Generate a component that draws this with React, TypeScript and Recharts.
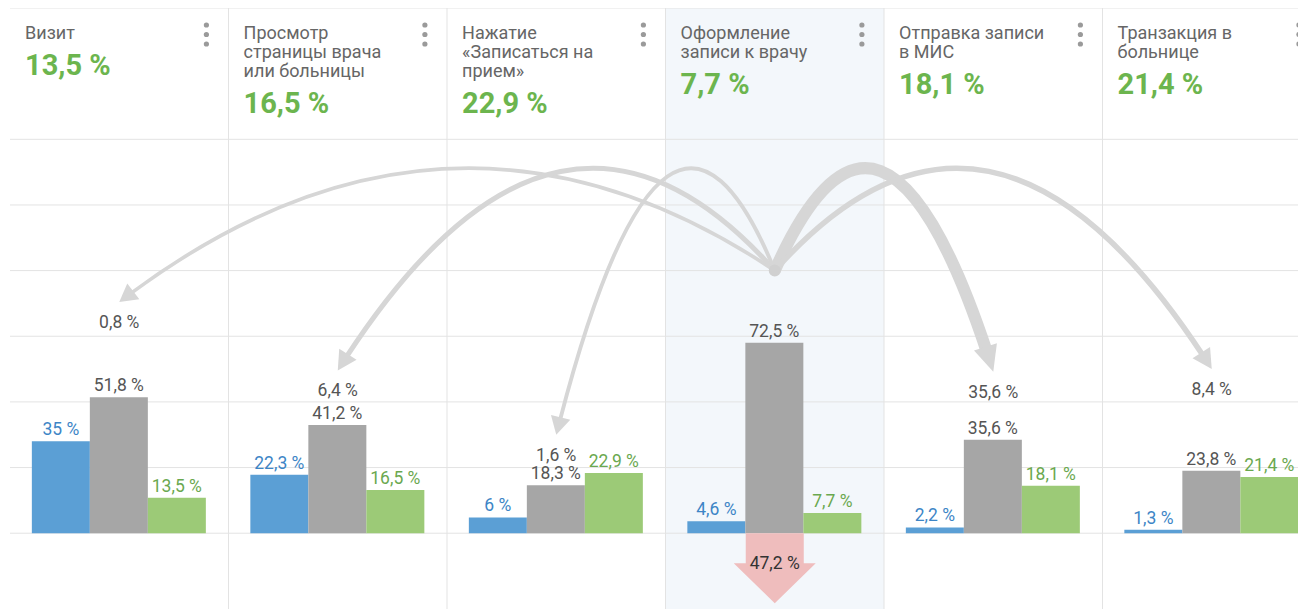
import React from 'react';
import {
  Bar,
  CartesianGrid,
  ComposedChart,
  LabelList,
  ReferenceDot,
  Scatter,
  XAxis,
  YAxis,
} from 'recharts';

// funnel steps
const categories = [
  'Визит',
  'Просмотр страницы врача или больницы',
  'Нажатие «Записаться на прием»',
  'Оформление записи к врачу',
  'Отправка записи в МИС',
  'Транзакция в больнице',
];
const titleLines = [
  ['Визит'],
  ['Просмотр', 'страницы врача', 'или больницы'],
  ['Нажатие', '«Записаться на', 'прием»'],
  ['Оформление', 'записи к врачу'],
  ['Отправка записи', 'в МИС'],
  ['Транзакция в', 'больнице'],
];
const stepRates = [13.5, 16.5, 22.9, 7.7, 18.1, 21.4];

const blueValues = [35, 22.3, 6, 4.6, 2.2, 1.3];
const grayValues = [51.8, 41.2, 18.3, 72.5, 35.6, 23.8];
const greenValues = [13.5, 16.5, 22.9, 7.7, 18.1, 21.4];

// flows out of the selected step (index 3)
const flowSource = 3;
const flowValues = [0.8, 6.4, 1.6, null, 35.6, 8.4];
const flowTargets = [88, 62, 37.5, null, 61.5, 62.5];
const sourceLevel = 100;
const arcTop = 139;
const exitValue = 47.2;

const gridLevels = [0, 25, 50, 75, 100, 125, 150, 200];
const colEdges = [-0.5, 0.5, 1.5, 2.5, 3.5, 4.5, 5.5];
const stripeFill = ['#ffffff', '#ffffff', '#ffffff', '#f3f7fb', '#ffffff', '#ffffff'];

const COL_W = 218.3;
const BLUE = '#5b9fd5';
const GRAY = '#a6a6a6';
const GREEN = '#9cca77';
const ARROW = '#d6d6d6';

const fmt = (v: number) => `${String(v).replace('.', ',')} %`;

const data = categories.map((name, i) => ({
  name,
  blue: blueValues[i],
  gray: grayValues[i],
  green: greenValues[i],
}));

const flows = flowValues
  .map((v, i) =>
    v == null
      ? null
      : {
          i,
          v,
          points: [
            { x: flowSource, y: sourceLevel, role: 'source' },
            { x: i, y: flowTargets[i] as number, role: 'target', value: v },
            { x: i, y: arcTop, role: 'apex' },
          ],
        },
  )
  .filter(Boolean) as { i: number; v: number; points: any[] }[];

function HeaderTick(props: any) {
  const { x, y, payload } = props;
  const i = categories.indexOf(payload.value);
  const left = x - COL_W / 2 + 15;
  const dotsX = x + COL_W / 2 - 22;
  const lines = titleLines[i];
  return (
    <g>
      {lines.map((l, k) => (
        <text key={k} x={left} y={y + 31 + k * 19} fill="#666" fontSize={18}>
          {l}
        </text>
      ))}
      <text
        x={left}
        y={y + 31 + (lines.length - 1) * 19 + 36}
        fill="#6cb54e"
        fontSize={29}
        fontWeight={700}
      >
        {fmt(stepRates[i])}
      </text>
      {[0, 1, 2].map((k) => (
        <circle key={k} cx={dotsX} cy={y + 17 + k * 9.5} r={2.6} fill="#9a9a9a" />
      ))}
    </g>
  );
}

const barLabel = (color: string) => (p: any) => {
  const x = p.x ?? p.viewBox?.x;
  const y = p.y ?? p.viewBox?.y;
  const w = p.width ?? p.viewBox?.width;
  return (
    <text x={x + w / 2} y={y - 6} textAnchor="middle" fill={color} fontSize={17.5}>
      {fmt(p.value)}
    </text>
  );
};

// parabola-like arc from source to target, apex at arcTop
const renderFlow = (value: number) => (props: any) => {
  const [s, t, a] = props.points;
  const yp = a.y;
  const dS = Math.sqrt(Math.max(s.y - yp, 1));
  const dT = Math.sqrt(Math.max(t.y - yp, 1));
  const xp = (s.x * dT + t.x * dS) / (dS + dT);
  const k = (s.y - yp) / Math.pow(s.x - xp, 2);
  const cx = (s.x + t.x) / 2;
  const cy = s.y + 2 * k * (s.x - xp) * (cx - s.x);

  const w = 3.5 + value * 0.24;
  const headL = 14 + w;
  const headW = 18 + w * 0.5;
  const dx = t.x - cx;
  const dy = t.y - cy;
  const len = Math.hypot(dx, dy);
  const ux = dx / len;
  const uy = dy / len;
  const t0 = 1 - (headL * 0.85) / (2 * len);
  const q1x = s.x + t0 * (cx - s.x);
  const q1y = s.y + t0 * (cy - s.y);
  const bx = (1 - t0) * (1 - t0) * s.x + 2 * t0 * (1 - t0) * cx + t0 * t0 * t.x;
  const by = (1 - t0) * (1 - t0) * s.y + 2 * t0 * (1 - t0) * cy + t0 * t0 * t.y;
  const baseX = t.x - ux * headL;
  const baseY = t.y - uy * headL;
  const px = -uy * (headW / 2);
  const py = ux * (headW / 2);
  return (
    <g>
      <path
        d={`M${s.x},${s.y} Q${q1x},${q1y} ${bx},${by}`}
        fill="none"
        stroke={ARROW}
        strokeWidth={w}
      />
      <path
        d={`M${t.x},${t.y} L${baseX + px},${baseY + py} L${baseX - px},${baseY - py} Z`}
        fill={ARROW}
      />
    </g>
  );
};

const flowPoint = (p: any) => {
  if (p.payload?.role !== 'target') return <g />;
  return (
    <text x={p.cx} y={p.cy + 26} textAnchor="middle" fill="#555" fontSize={17.5}>
      {fmt(p.payload.value)}
    </text>
  );
};

const ExitArrow = (p: any) => {
  const { cx, cy } = p;
  return (
    <g>
      <path
        d={`M${cx - 29},${cy} L${cx + 29},${cy} L${cx + 29},${cy + 30} L${cx + 41},${cy + 30} L${cx},${cy + 70} L${cx - 41},${cy + 30} L${cx - 29},${cy + 30} Z`}
        fill="#efbdbd"
      />
      <text x={cx} y={cy + 36} textAnchor="middle" fill="#333" fontSize={17.5}>
        {fmt(exitValue)}
      </text>
    </g>
  );
};

export default function App() {
  return (
    <div
      style={{
        width: 1298,
        height: 601,
        overflow: 'hidden',
        fontFamily: 'Roboto, sans-serif',
        background: '#fff',
      }}
    >
      <ComposedChart
        width={1313}
        height={604}
        data={data}
        margin={{ top: 0, right: 0, bottom: 0, left: 2 }}
        barCategoryGap="10%"
        barGap={0}
      >
        <CartesianGrid
          xAxisId="num"
          stroke="#e3e3e3"
          verticalValues={colEdges}
          horizontalValues={gridLevels}
          verticalFill={stripeFill}
        />
        <XAxis
          xAxisId="cat"
          dataKey="name"
          orientation="top"
          mirror
          axisLine={false}
          tickLine={false}
          tickSize={0}
          tickMargin={0}
          interval={0}
          tick={HeaderTick}
        />
        <XAxis
          xAxisId="num"
          dataKey="x"
          type="number"
          domain={[-0.5, 5.5]}
          ticks={colEdges}
          hide
          allowDataOverflow
        />
        <YAxis domain={[-30, 200]} ticks={gridLevels} hide allowDataOverflow />
        <Bar xAxisId="cat" dataKey="blue" fill={BLUE} isAnimationActive={false}>
          <LabelList dataKey="blue" content={barLabel('#3d85c6')} />
        </Bar>
        <Bar xAxisId="cat" dataKey="gray" fill={GRAY} isAnimationActive={false}>
          <LabelList dataKey="gray" content={barLabel('#555')} />
        </Bar>
        <Bar xAxisId="cat" dataKey="green" fill={GREEN} isAnimationActive={false}>
          <LabelList dataKey="green" content={barLabel('#6aa84f')} />
        </Bar>
        {flows.map((f) => (
          <Scatter
            key={f.i}
            xAxisId="num"
            data={f.points}
            dataKey="y"
            fill={ARROW}
            line={renderFlow(f.v)}
            lineType="joint"
            shape={flowPoint}
            isAnimationActive={false}
          />
        ))}
        <ReferenceDot xAxisId="num" x={flowSource} y={sourceLevel} r={6} fill="#d0d0d0" stroke="none" />
        <ReferenceDot xAxisId="num" x={flowSource} y={0} shape={ExitArrow} />
      </ComposedChart>
    </div>
  );
}
